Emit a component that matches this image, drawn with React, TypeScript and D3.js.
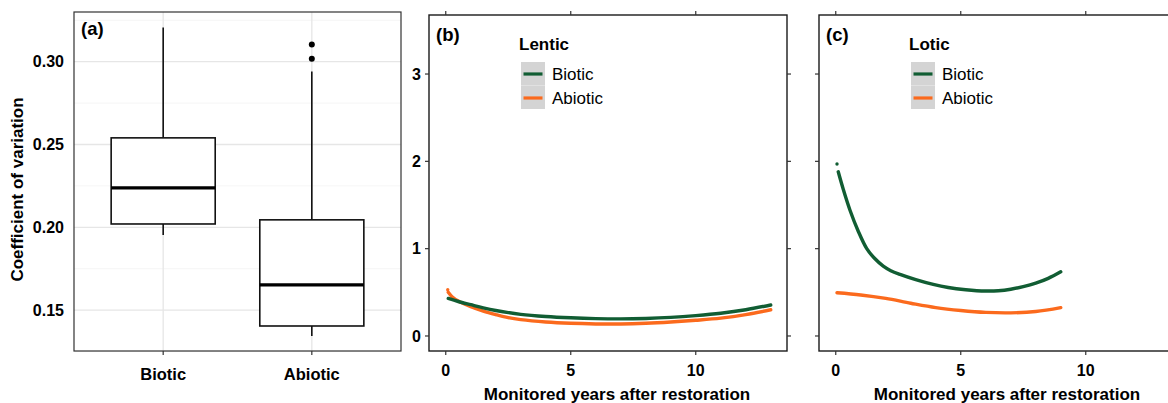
import React from "react";
import * as d3 from "d3";

// ---- data ----
const groups = ["Biotic", "Abiotic"];
const boxLow = [0.1954, 0.1343];
const boxQ1 = [0.202, 0.1404];
const boxMedian = [0.2238, 0.1652];
const boxQ3 = [0.254, 0.2045];
const boxHigh = [0.3206, 0.294];
const abioticOutliers = [0.3103, 0.3018];
const cvTicks = [0.15, 0.2, 0.25, 0.3];
const cvMinor = [0.125, 0.175, 0.225, 0.275, 0.325];

const lenticBioticYears = [0.1, 0.5, 1, 1.5, 2, 3, 4, 5, 6, 7, 8, 9, 10, 11, 12, 13];
const lenticBiotic = [0.43, 0.395, 0.358, 0.322, 0.292, 0.248, 0.223, 0.208, 0.199, 0.196, 0.201, 0.213, 0.233, 0.26, 0.3, 0.355];
const lenticAbioticYears = [0.1, 0.25, 0.5, 1, 1.5, 2, 2.5, 3, 4, 5, 6, 7, 8, 9, 10, 11, 12, 13];
const lenticAbiotic = [0.5, 0.45, 0.4, 0.335, 0.285, 0.245, 0.21, 0.187, 0.16, 0.145, 0.138, 0.137, 0.145, 0.16, 0.18, 0.205, 0.245, 0.3];
const lenticAbioticStart = [0.08, 0.53];

const loticBioticYears = [0.1, 0.3, 0.57, 0.9, 1.24, 1.55, 1.9, 2.2, 2.57, 3.2, 3.9, 4.5, 5.2, 6, 6.5, 7, 7.5, 8, 8.5, 9];
const loticBiotic = [1.88, 1.68, 1.44, 1.2, 1.0, 0.89, 0.8, 0.748, 0.705, 0.645, 0.59, 0.555, 0.53, 0.515, 0.518, 0.535, 0.565, 0.605, 0.66, 0.735];
const loticAbioticYears = [0.05, 1, 2, 3, 4, 5, 6, 7, 8, 9];
const loticAbiotic = [0.495, 0.47, 0.43, 0.375, 0.325, 0.292, 0.27, 0.265, 0.28, 0.325];
const loticBioticStart = [0.05, 1.97];

const yearTicks = [0, 5, 10];
const cvIndexTicks = [0, 1, 2, 3];

const GREEN = "#115d33";
const ORANGE = "#fb6a1d";
const FONT = "'Liberation Sans', Arial, Helvetica, sans-serif";

// ---- layout ----
const A = { x0: 74, x1: 401, y0: 12, y1: 351 };
const PW = 358;
const B = { x0: 429, x1: 429 + PW, y0: 15, y1: 351 };
const C = { x0: 819, x1: 819 + PW, y0: 15, y1: 351 };

const yA = d3.scaleLinear().domain([0.1253, 0.33]).range([A.y1, A.y0]);
const xA = d3.scalePoint<string>().domain(groups).range([A.x0, A.x1]).padding(0.6);
const boxW = xA.step() * 0.7;

const yT = d3.scaleLinear().domain([-0.172, 3.676]).range([B.y1, B.y0]);

function TrendPanel(props: {
  x0: number;
  label: string;
  title: string;
  bx: number[];
  by: number[];
  ax: number[];
  ay: number[];
  dot: number[];
  dotColor: string;
  showYLabels: boolean;
}) {
  const { x0, label, title, bx, by, ax, ay, dot, dotColor, showYLabels } = props;
  const x = d3.scaleLinear().domain([-0.67, 13.65]).range([x0, x0 + PW]);
  const line = d3
    .line<[number, number]>()
    .x((d) => x(d[0]))
    .y((d) => yT(d[1]))
    .curve(d3.curveCatmullRom.alpha(0.5));
  const bio = line(bx.map((v, i) => [v, by[i]] as [number, number])) || "";
  const abio = line(ax.map((v, i) => [v, ay[i]] as [number, number])) || "";
  const y0 = B.y0;
  const y1 = B.y1;
  const x1 = x0 + PW;
  const lx = x0 + 92;
  return (
    <g>
      <defs>
        <clipPath id={"clip-" + label}>
          <rect x={x0} y={y0} width={PW} height={y1 - y0} />
        </clipPath>
      </defs>
      <g clipPath={`url(#clip-${label})`}>
        <path d={abio} fill="none" stroke={ORANGE} strokeWidth={3.4} strokeLinecap="round" />
        <path d={bio} fill="none" stroke={GREEN} strokeWidth={3.4} strokeLinecap="round" />
        <circle cx={x(dot[0])} cy={yT(dot[1])} r={1.7} fill={dotColor} />
      </g>
      <rect x={x0} y={y0} width={PW} height={y1 - y0} fill="none" stroke="#1a1a1a" strokeWidth={1.4} />
      {yearTicks.map((t) => (
        <g key={"xt" + t}>
          <line x1={x(t)} x2={x(t)} y1={y1} y2={y1 + 4} stroke="#333" strokeWidth={1.2} />
          <line x1={x(t)} x2={x(t)} y1={y0} y2={y0 - 4} stroke="#333" strokeWidth={1.2} />
          <text x={x(t)} y={376} textAnchor="middle" fontSize={16} fontWeight="bold" fill="#000" fontFamily={FONT}>
            {t}
          </text>
        </g>
      ))}
      {cvIndexTicks.map((t) => (
        <g key={"yt" + t}>
          <line x1={x0} x2={x0 - 4} y1={yT(t)} y2={yT(t)} stroke="#333" strokeWidth={1.2} />
          <line x1={x1} x2={x1 + 4} y1={yT(t)} y2={yT(t)} stroke="#333" strokeWidth={1.2} />
          {showYLabels && (
            <text x={x0 - 8} y={yT(t)} dy="0.36em" textAnchor="end" fontSize={16} fontWeight="bold" fill="#000" fontFamily={FONT}>
              {t}
            </text>
          )}
        </g>
      ))}
      <text x={x0 + 7} y={41} fontSize={18.5} fontWeight="bold" fill="#000" fontFamily={FONT}>
        {label}
      </text>
      <text x={lx - 2} y={50} fontSize={17} fontWeight="bold" fill="#000" fontFamily={FONT}>
        {title}
      </text>
      <rect x={lx} y={62} width={24} height={47} fill="#d4d4d4" />
      <line x1={lx} x2={lx + 24} y1={85.5} y2={85.5} stroke="#e4e4e4" strokeWidth={0.8} />
      <line x1={lx + 2.5} x2={lx + 21.5} y1={74} y2={74} stroke={GREEN} strokeWidth={3.2} />
      <line x1={lx + 2.5} x2={lx + 21.5} y1={98} y2={98} stroke={ORANGE} strokeWidth={3.2} />
      <text x={lx + 31} y={74} dy="0.36em" fontSize={17} fill="#000" fontFamily={FONT}>
        Biotic
      </text>
      <text x={lx + 31} y={98} dy="0.36em" fontSize={17} fill="#000" fontFamily={FONT}>
        Abiotic
      </text>
      <text x={x0 + PW / 2 + 9} y={400} textAnchor="middle" fontSize={17} fontWeight="bold" fill="#000" fontFamily={FONT}>
        Monitored years after restoration
      </text>
    </g>
  );
}

export default function App() {
  return (
    <svg width={1168} height={403} style={{ position: "absolute", left: 0, top: 0, background: "#fff" }}>
      {/* panel (a): boxplots of coefficient of variation */}
      <g>
        {cvMinor.map((t) => (
          <line key={"mn" + t} x1={A.x0} x2={A.x1} y1={yA(t)} y2={yA(t)} stroke="#f2f2f2" strokeWidth={0.8} />
        ))}
        {cvTicks.map((t) => (
          <line key={"mj" + t} x1={A.x0} x2={A.x1} y1={yA(t)} y2={yA(t)} stroke="#e6e6e6" strokeWidth={1.3} />
        ))}
        {groups.map((g) => (
          <line key={"vg" + g} x1={xA(g)!} x2={xA(g)!} y1={A.y0} y2={A.y1} stroke="#e6e6e6" strokeWidth={1.3} />
        ))}
        {groups.map((g, i) => {
          const cx = xA(g)!;
          return (
            <g key={g}>
              <line x1={cx} x2={cx} y1={yA(boxHigh[i])} y2={yA(boxQ3[i])} stroke="#111" strokeWidth={1.6} />
              <line x1={cx} x2={cx} y1={yA(boxQ1[i])} y2={yA(boxLow[i])} stroke="#111" strokeWidth={1.6} />
              <rect
                x={cx - boxW / 2}
                y={yA(boxQ3[i])}
                width={boxW}
                height={yA(boxQ1[i]) - yA(boxQ3[i])}
                fill="#fff"
                stroke="#111"
                strokeWidth={1.6}
              />
              <line x1={cx - boxW / 2} x2={cx + boxW / 2} y1={yA(boxMedian[i])} y2={yA(boxMedian[i])} stroke="#000" strokeWidth={3.2} />
            </g>
          );
        })}
        {abioticOutliers.map((v, i) => (
          <circle key={"o" + i} cx={xA("Abiotic")!} cy={yA(v)} r={3} fill="#000" />
        ))}
        <rect x={A.x0} y={A.y0} width={A.x1 - A.x0} height={A.y1 - A.y0} fill="none" stroke="#333" strokeWidth={1.2} />
        {groups.map((g) => (
          <g key={"xl" + g}>
            <line x1={xA(g)!} x2={xA(g)!} y1={A.y1} y2={A.y1 + 4} stroke="#333" strokeWidth={1.2} />
            <text x={xA(g)!} y={380} textAnchor="middle" fontSize={16.5} fontWeight="bold" fill="#000" fontFamily={FONT}>
              {g}
            </text>
          </g>
        ))}
        {cvTicks.map((t) => (
          <text key={"yl" + t} x={64} y={yA(t)} dy="0.36em" textAnchor="end" fontSize={16} fontWeight="bold" fill="#000" fontFamily={FONT}>
            {d3.format(".2f")(t)}
          </text>
        ))}
        <text x={81} y={35} fontSize={18.5} fontWeight="bold" fill="#000" fontFamily={FONT}>
          (a)
        </text>
        <text
          transform={`translate(23,${(A.y0 + A.y1) / 2 + 8}) rotate(-90)`}
          textAnchor="middle"
          fontSize={17}
          fontWeight="bold"
          fill="#000"
          fontFamily={FONT}
        >
          Coefficient of variation
        </text>
      </g>

      <TrendPanel
        x0={B.x0}
        label="(b)"
        title="Lentic"
        bx={lenticBioticYears}
        by={lenticBiotic}
        ax={lenticAbioticYears}
        ay={lenticAbiotic}
        dot={lenticAbioticStart}
        dotColor={ORANGE}
        showYLabels={true}
      />
      <TrendPanel
        x0={C.x0}
        label="(c)"
        title="Lotic"
        bx={loticBioticYears}
        by={loticBiotic}
        ax={loticAbioticYears}
        ay={loticAbiotic}
        dot={loticBioticStart}
        dotColor={GREEN}
        showYLabels={false}
      />
    </svg>
  );
}
